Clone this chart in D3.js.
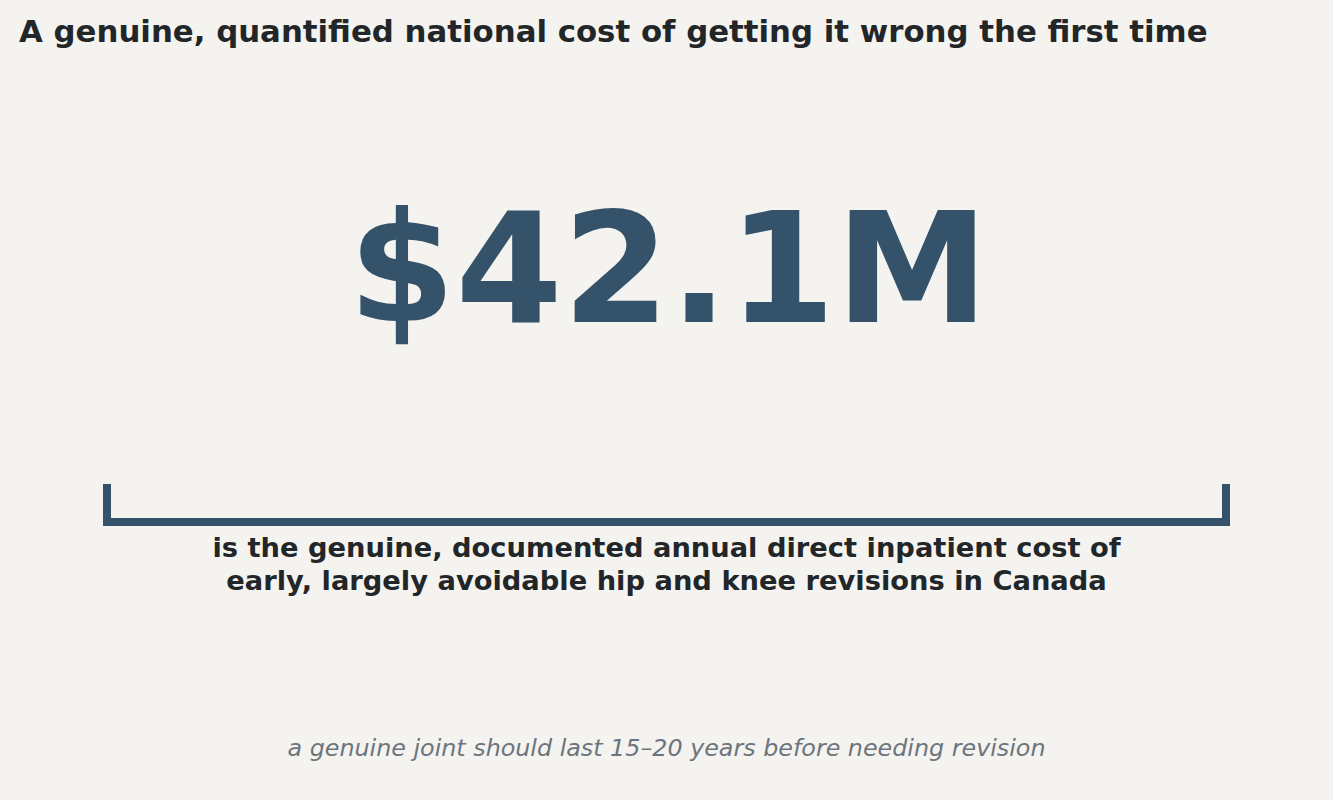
<!DOCTYPE html>
<html><head><meta charset="utf-8">
<script src="https://cdn.jsdelivr.net/npm/d3@7"></script>
<style>body{margin:0;background:#f4f3ef;}</style>
</head><body><svg id="c" width="1333" height="800"></svg>
<script>
const title = "A genuine, quantified national cost of getting it wrong the first time";
const values = [42.1];
const valueLabels = ["$42.1M"];
const captionLines = ["is the genuine, documented annual direct inpatient cost of","early, largely avoidable hip and knee revisions in Canada"];
const footnote = "a genuine joint should last 15\u201320 years before needing revision";

const svg = d3.select("#c");
const W = 1333, H = 800, col = "#34536a", font = "DejaVu Sans, sans-serif";
svg.append("rect").attr("width",W).attr("height",H).attr("fill","#f4f3ef");
svg.append("text").attr("x",19).attr("y",42).attr("font-family",font).attr("font-weight","bold")
  .attr("font-size",30.8).attr("fill","#222629").text(title);
svg.selectAll(".big").data(values).join("text").attr("x",W/2+2).attr("y",322)
  .attr("text-anchor","middle").attr("font-family",font).attr("font-weight","bold")
  .attr("font-size",154).attr("fill",col).text((d,i)=>valueLabels[i]);
const x = d3.scaleLinear().domain([0,1]).range([103,1230]);
const g = svg.append("g");
g.append("rect").attr("x",x(0)).attr("y",518).attr("width",x(1)-x(0)).attr("height",8).attr("fill",col);
g.append("rect").attr("x",x(0)).attr("y",484).attr("width",8).attr("height",42).attr("fill",col);
g.append("rect").attr("x",x(1)-8).attr("y",484).attr("width",8).attr("height",42).attr("fill",col);
svg.selectAll(".cap").data(captionLines).join("text").attr("x",W/2).attr("y",(d,i)=>557+i*33)
  .attr("text-anchor","middle").attr("font-family",font).attr("font-weight","bold")
  .attr("font-size",27.3).attr("fill","#222629").text(d=>d);
svg.append("text").attr("x",W/2).attr("y",756).attr("text-anchor","middle").attr("font-family",font)
  .attr("font-style","italic").attr("font-size",23.8).attr("fill","#6c757d").text(footnote);
</script></body></html>
